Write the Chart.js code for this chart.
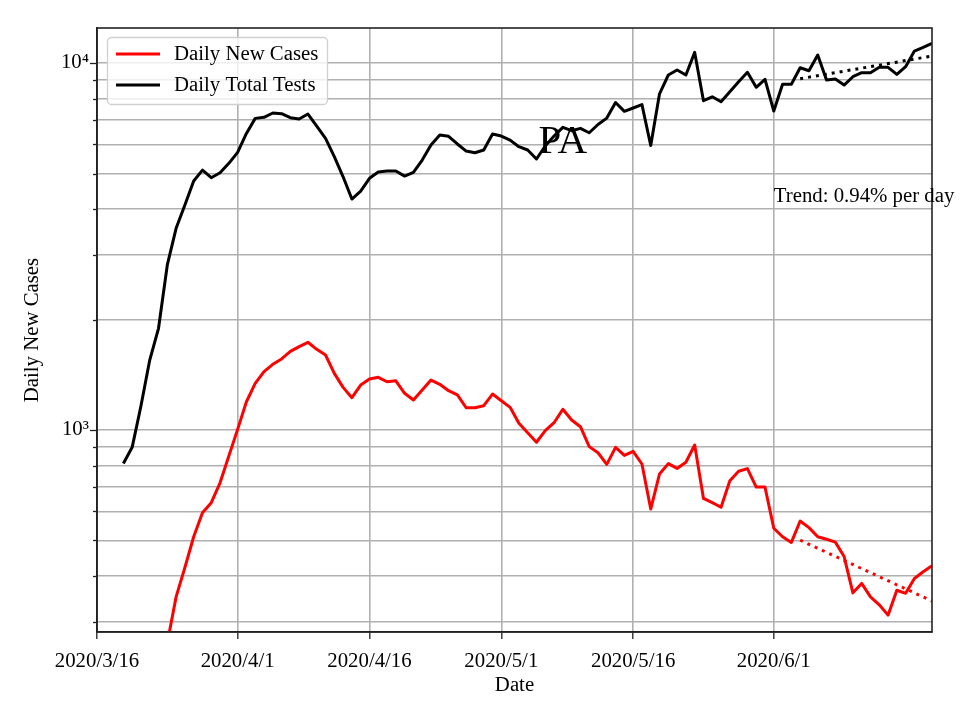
<!DOCTYPE html>
<html>
<head>
<meta charset="utf-8">
<title>PA</title>
<script src="https://cdn.jsdelivr.net/npm/chart.js@4.4.1/dist/chart.umd.min.js"></script>
<style>
  html, body { margin: 0; padding: 0; background: #fff; }
  #wrap { width: 960px; height: 720px; }
</style>
</head>
<body>
<div id="wrap"><canvas id="paChart" width="960" height="720"></canvas></div>
<script>
// one entry per day, 2020/3/16 .. 2020/6/19
const dates = [
  "2020/3/16", "2020/3/17", "2020/3/18", "2020/3/19", "2020/3/20", "2020/3/21", "2020/3/22", "2020/3/23",
  "2020/3/24", "2020/3/25", "2020/3/26", "2020/3/27", "2020/3/28", "2020/3/29", "2020/3/30", "2020/3/31",
  "2020/4/1", "2020/4/2", "2020/4/3", "2020/4/4", "2020/4/5", "2020/4/6", "2020/4/7", "2020/4/8",
  "2020/4/9", "2020/4/10", "2020/4/11", "2020/4/12", "2020/4/13", "2020/4/14", "2020/4/15", "2020/4/16",
  "2020/4/17", "2020/4/18", "2020/4/19", "2020/4/20", "2020/4/21", "2020/4/22", "2020/4/23", "2020/4/24",
  "2020/4/25", "2020/4/26", "2020/4/27", "2020/4/28", "2020/4/29", "2020/4/30", "2020/5/1", "2020/5/2",
  "2020/5/3", "2020/5/4", "2020/5/5", "2020/5/6", "2020/5/7", "2020/5/8", "2020/5/9", "2020/5/10",
  "2020/5/11", "2020/5/12", "2020/5/13", "2020/5/14", "2020/5/15", "2020/5/16", "2020/5/17", "2020/5/18",
  "2020/5/19", "2020/5/20", "2020/5/21", "2020/5/22", "2020/5/23", "2020/5/24", "2020/5/25", "2020/5/26",
  "2020/5/27", "2020/5/28", "2020/5/29", "2020/5/30", "2020/5/31", "2020/6/1", "2020/6/2", "2020/6/3",
  "2020/6/4", "2020/6/5", "2020/6/6", "2020/6/7", "2020/6/8", "2020/6/9", "2020/6/10", "2020/6/11",
  "2020/6/12", "2020/6/13", "2020/6/14", "2020/6/15", "2020/6/16", "2020/6/17", "2020/6/18", "2020/6/19"
];

const newCases = [
  null, null, null, null, null, null, null, null,
  263, 351, 422, 512, 595, 634, 718, 850,
  1004, 1194, 1340, 1442, 1510, 1562, 1638, 1687,
  1734, 1659, 1601, 1427, 1307, 1225, 1326, 1377,
  1392, 1354, 1362, 1259, 1207, 1285, 1368, 1332,
  1280, 1246, 1150, 1150, 1165, 1253, 1202, 1153,
  1043, 983, 926, 996, 1047, 1139, 1065, 1021,
  901, 867, 806, 897, 853, 875, 808, 609,
  759, 810, 786, 817, 910, 651, 634, 616,
  727, 772, 785, 699, 699, 540, 512, 494,
  565, 542, 512, 504, 495, 452, 360, 382,
  351, 334, 313, 366, 359, 394, 411, 427
];

const totalTests = [
  null, null, null, 811, 897, 1163, 1551, 1893,
  2817, 3545, 4103, 4770, 5108, 4870, 5023, 5329,
  5709, 6430, 7066, 7112, 7308, 7278, 7096, 7037,
  7262, 6732, 6233, 5556, 4898, 4260, 4479, 4851,
  5047, 5077, 5077, 4920, 5037, 5441, 5979, 6368,
  6314, 6017, 5755, 5696, 5794, 6406, 6325, 6166,
  5915, 5794, 5476, 5943, 6325, 6680, 6540, 6638,
  6457, 6799, 7079, 7805, 7385, 7541, 7706, 5960,
  8246, 9276, 9570, 9276, 10690, 7893, 8091, 7844,
  8353, 8895, 9434, 8587, 9029, 7400, 8750, 8750,
  9710, 9528, 10515, 8990, 9047, 8710, 9177, 9410,
  9410, 9735, 9735, 9311, 9772, 10782, 11035, 11316
];

// fitted trends over the last two weeks (straight on a log axis)
const trendDates = ["2020/6/4", "2020/6/19"];
const casesTrend = [501, 342];
const testsTrend = [9063, 10447];

const xTickDates = ["2020/3/16", "2020/4/1", "2020/4/16", "2020/5/1", "2020/5/16", "2020/6/1"];
const yTicks = [300, 400, 500, 600, 700, 800, 900, 1000, 2000, 3000, 4000, 5000, 6000, 7000, 8000, 9000, 10000];
const yTickLabels = { 1000: "10³", 10000: "10⁴" };

const seriesNames = ["Daily New Cases", "Daily Total Tests"];
const stateName = "PA";
const trendText = "Trend: 0.94% per day";

const serif = "'Liberation Serif', 'Times New Roman', serif";
Chart.defaults.font.family = serif;
Chart.defaults.font.size = 20.8;
Chart.defaults.color = "#000";

// legend box, spines, minor tick marks and the two annotations
const decorations = {
  id: "decorations",
  afterDraw(chart) {
    const { ctx, chartArea: a, scales } = chart;
    const x = scales.x, y = scales.y;
    ctx.save();

    ctx.strokeStyle = "#222";
    ctx.lineWidth = 1.3;
    yTicks.forEach((v) => {
      const py = Math.round(y.getPixelForValue(v)) + 0.5;
      const len = yTickLabels[v] ? 7 : 4;
      ctx.beginPath();
      ctx.moveTo(a.left - len, py);
      ctx.lineTo(a.left, py);
      ctx.stroke();
    });

    ctx.lineWidth = 1.6;
    ctx.strokeRect(a.left, a.top, a.right - a.left, a.bottom - a.top);

    ctx.fillStyle = "#000";
    ctx.textBaseline = "alphabetic";
    ctx.textAlign = "center";
    ctx.font = "41px " + serif;
    ctx.fillText(stateName, x.getPixelForValue(dates.indexOf("2020/5/8")), y.getPixelForValue(5690));

    ctx.textAlign = "left";
    ctx.font = "20.8px " + serif;
    ctx.fillText(trendText, x.getPixelForValue(dates.indexOf("2020/6/1")), y.getPixelForValue(4190));

    // legend
    const bx = 107.5, by = 37.5, bw = 220, bh = 67, r = 4;
    ctx.beginPath();
    ctx.moveTo(bx + r, by);
    ctx.arcTo(bx + bw, by, bx + bw, by + bh, r);
    ctx.arcTo(bx + bw, by + bh, bx, by + bh, r);
    ctx.arcTo(bx, by + bh, bx, by, r);
    ctx.arcTo(bx, by, bx + bw, by, r);
    ctx.closePath();
    ctx.fillStyle = "rgba(255,255,255,0.8)";
    ctx.fill();
    ctx.strokeStyle = "#d0d0d0";
    ctx.lineWidth = 1.3;
    ctx.stroke();

    const entries = chart.data.datasets.filter((d) => seriesNames.includes(d.label));
    ctx.textBaseline = "middle";
    entries.forEach((d, i) => {
      const ly = 54 + i * 31;
      ctx.strokeStyle = d.borderColor;
      ctx.lineWidth = 3;
      ctx.beginPath();
      ctx.moveTo(116, ly);
      ctx.lineTo(160, ly);
      ctx.stroke();
      ctx.fillStyle = "#000";
      ctx.fillText(d.label, 174, ly + 1);
    });
    ctx.restore();
  }
};

const lineStyle = { borderWidth: 3, pointRadius: 0, tension: 0, fill: false, clip: 0, borderJoinStyle: "round" };

new Chart(document.getElementById("paChart").getContext("2d"), {
  type: "line",
  data: {
    labels: dates,
    datasets: [
      { ...lineStyle, label: seriesNames[0], data: newCases, borderColor: "#ff0000" },
      { ...lineStyle, label: seriesNames[1], data: totalTests, borderColor: "#000000" },
      {
        ...lineStyle, label: "", borderColor: "#ff0000", borderDash: [3, 5],
        data: trendDates.map((d, i) => ({ x: d, y: casesTrend[i] }))
      },
      {
        ...lineStyle, label: "", borderColor: "#000000", borderDash: [3, 5],
        data: trendDates.map((d, i) => ({ x: d, y: testsTrend[i] }))
      }
    ]
  },
  options: {
    responsive: false,
    animation: false,
    events: [],
    layout: { padding: { left: 0, right: 28, top: 28, bottom: 0 } },
    plugins: { legend: { display: false }, tooltip: { enabled: false } },
    scales: {
      x: {
        afterFit: (s) => { s.height = 88; },
        afterBuildTicks: (s) => {
          s.ticks = xTickDates.map((d) => ({ value: dates.indexOf(d) }));
        },
        ticks: {
          autoSkip: false,
          maxRotation: 0,
          padding: 10,
          callback: function (v) { return this.getLabelForValue(v); }
        },
        grid: { color: "#b0b0b0", lineWidth: 1.6, tickColor: "#222", tickLength: 7, tickWidth: 1.3 },
        border: { color: "#222", width: 1.6 },
        title: { display: true, text: "Date", padding: { top: 0, bottom: 22 } }
      },
      y: {
        type: "logarithmic",
        min: 281.6,
        max: 12458,
        afterFit: (s) => { s.width = 97; },
        afterBuildTicks: (s) => {
          s.ticks = yTicks.map((v) => ({ value: v }));
        },
        ticks: {
          autoSkip: false,
          padding: 8,
          callback: (v) => yTickLabels[v] || ""
        },
        grid: { color: "#b0b0b0", lineWidth: 1.6, drawTicks: false },
        border: { color: "#222", width: 1.6 },
        title: { display: true, text: "Daily New Cases", padding: { top: 20, bottom: 0 } }
      }
    }
  },
  plugins: [decorations]
});
</script>
</body>
</html>
